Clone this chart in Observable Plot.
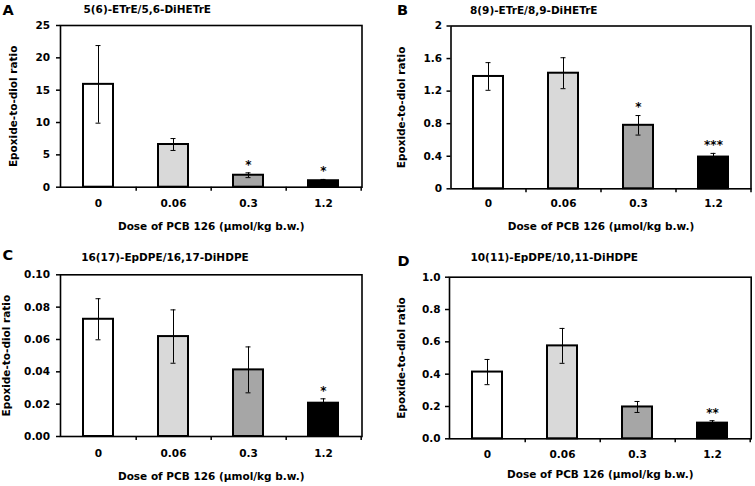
<!DOCTYPE html>
<html>
<head>
<meta charset="utf-8">
<script src="https://cdn.jsdelivr.net/npm/d3@7"></script>
<script src="https://cdn.jsdelivr.net/npm/@observablehq/plot@0.6"></script>
<style>
  body { margin: 0; background: white; }
  #root { position: relative; width: 755px; height: 486px; background: white; overflow: hidden; }
  .panel { position: absolute; }
</style>
</head>
<body>
<div id="root"></div>
<script>
// ---- Data ----
const doses = ["0", "0.06", "0.3", "1.2"];
const barFills = ["#ffffff", "#d9d9d9", "#a6a6a6", "#000000"];
const letters = ["A", "B", "C", "D"];
const titles = ["5(6)-ETrE/5,6-DiHETrE", "8(9)-ETrE/8,9-DiHETrE", "16(17)-EpDPE/16,17-DiHDPE", "10(11)-EpDPE/10,11-DiHDPE"];
const yLabel = "Epoxide-to-diol ratio";
const xLabel = "Dose of PCB 126 (μmol/kg b.w.)";

const meanA = [15.9, 6.6, 1.85, 1.0];
const sdA = [6.0, 0.92, 0.37, 0.2];
const sigA = ["", "", "*", "*"];
const yTicksA = [0, 5, 10, 15, 20, 25];

const meanB = [1.38, 1.42, 0.78, 0.39];
const sdB = [0.17, 0.19, 0.12, 0.045];
const sigB = ["", "", "*", "***"];
const yTicksB = [0, 0.4, 0.8, 1.2, 1.6, 2];

const meanC = [0.0725, 0.0618, 0.0412, 0.0206];
const sdC = [0.0127, 0.0165, 0.0142, 0.0027];
const sigC = ["", "", "", "*"];
const yTicksC = [0, 0.02, 0.04, 0.06, 0.08, 0.10];

const meanD = [0.413, 0.575, 0.197, 0.097];
const sdD = [0.078, 0.108, 0.034, 0.015];
const sigD = ["", "", "", "**"];
const yTicksD = [0, 0.2, 0.4, 0.6, 0.8, 1.0];

// ---- Layout ----
const panels = [
  {letter: letters[0], title: titles[0], mean: meanA, sd: sdA, sig: sigA, ticks: yTicksA, fmt: d3.format("d"),
   left: 0, top: 0, width: 375, height: 240, ml: 60, mr: 13.5, mt: 25, mb: 53.3, tp: 6.5,
   ylx: -47, xly: 39.3, xty: 15.8, tdx: 23, tdy: -16.2, ldx: -58, ldy: -15},
  {letter: letters[1], title: titles[1], mean: meanB, sd: sdB, sig: sigB, ticks: yTicksB, fmt: d3.format("~g"),
   left: 375, top: 0, width: 380, height: 240, ml: 75.5, mr: 4.5, mt: 25.5, mb: 51.7, tp: 5,
   ylx: -49, xly: 37.7, xty: 14.2, tdx: 19, tdy: -15.5, ldx: -54, ldy: -15.5},
  {letter: letters[2], title: titles[2], mean: meanC, sd: sdC, sig: sigC, ticks: yTicksC, fmt: d3.format(".2f"),
   left: 0, top: 240, width: 375, height: 246, ml: 60, mr: 13.5, mt: 34.3, mb: 50, tp: 6.5,
   ylx: -53.5, xly: 39.8, xty: 16.5, tdx: 20.7, tdy: -17.6, ldx: -58, ldy: -19.3},
  {letter: letters[3], title: titles[3], mean: meanD, sd: sdD, sig: sigD, ticks: yTicksD, fmt: d3.format(".1f"),
   left: 375, top: 240, width: 380, height: 246, ml: 74, mr: 4.3, mt: 36.7, mb: 47.7, tp: 5,
   ylx: -47.5, xly: 35.5, xty: 15.8, tdx: 21, tdy: -19.2, ldx: -52, ldy: -15.8}
];

function makePanel(cfg) {
  const data = doses.map((d, i) => ({dose: d, mean: cfg.mean[i], sd: cfg.sd[i], sig: cfg.sig[i]}));
  const plotW = cfg.width - cfg.ml - cfg.mr;
  const step = plotW / doses.length;
  return Plot.plot({
    width: cfg.width,
    height: cfg.height,
    marginLeft: cfg.ml,
    marginRight: cfg.mr,
    marginTop: cfg.mt,
    marginBottom: cfg.mb,
    style: "font-family: 'DejaVu Sans', sans-serif; font-weight: bold; font-size: 10.5px; color: black; background: white; overflow: visible;",
    x: {domain: doses, paddingInner: 0.6, paddingOuter: 0.3, axis: null},
    y: {domain: [0, cfg.ticks[cfg.ticks.length - 1]], axis: null},
    color: {domain: doses, range: barFills},
    marks: [
      Plot.barY(data, {x: "dose", y: "mean", fill: "dose", stroke: "black", strokeWidth: 2}),
      Plot.ruleX(data, {x: "dose", y1: d => d.mean - d.sd, y2: d => d.mean + d.sd, stroke: "black", strokeWidth: 1}),
      Plot.tickY(data, {x: "dose", y: d => d.mean + d.sd, stroke: "black", strokeWidth: 1, insetLeft: 12.5, insetRight: 12.5}),
      Plot.tickY(data, {x: "dose", y: d => d.mean - d.sd, stroke: "black", strokeWidth: 1, insetLeft: 12.5, insetRight: 12.5}),
      Plot.text(data, {x: "dose", y: d => d.mean + d.sd, text: "sig", fontSize: 12, dy: -8, lineAnchor: "middle", fill: "black"}),
      Plot.frame({stroke: "black", strokeWidth: 1.6}),
      Plot.ruleX(doses, {x: d => d, dx: step / 2, y1: () => 0, y2: () => 0, insetBottom: -4, stroke: "black", strokeWidth: 1.5}),
      Plot.axisY({ticks: cfg.ticks, tickFormat: cfg.fmt, tickSize: 4, tickPadding: cfg.tp, label: null, stroke: "black", strokeWidth: 1.5, fill: "black"}),
      Plot.axisX({tickSize: 0, tickPadding: cfg.xty - 3.8, label: null, fill: "black"}),
      Plot.text([yLabel], {frameAnchor: "left", textAnchor: "middle", lineAnchor: "middle", rotate: -90, dx: cfg.ylx, text: d => d, fill: "black"}),
      Plot.text([xLabel], {frameAnchor: "bottom", textAnchor: "middle", lineAnchor: "middle", dy: cfg.xly, text: d => d, fill: "black"}),
      Plot.text([cfg.title], {frameAnchor: "top-left", textAnchor: "start", lineAnchor: "middle", dx: cfg.tdx, dy: cfg.tdy, text: d => d, fill: "black"}),
      Plot.text([cfg.letter], {frameAnchor: "top-left", textAnchor: "start", lineAnchor: "middle", dx: cfg.ldx, dy: cfg.ldy, text: d => d, fontSize: 14.5, fill: "black"})
    ]
  });
}

const root = document.getElementById("root");
for (const cfg of panels) {
  const div = document.createElement("div");
  div.className = "panel";
  div.style.left = cfg.left + "px";
  div.style.top = cfg.top + "px";
  div.appendChild(makePanel(cfg));
  root.appendChild(div);
}
</script>
</body>
</html>
